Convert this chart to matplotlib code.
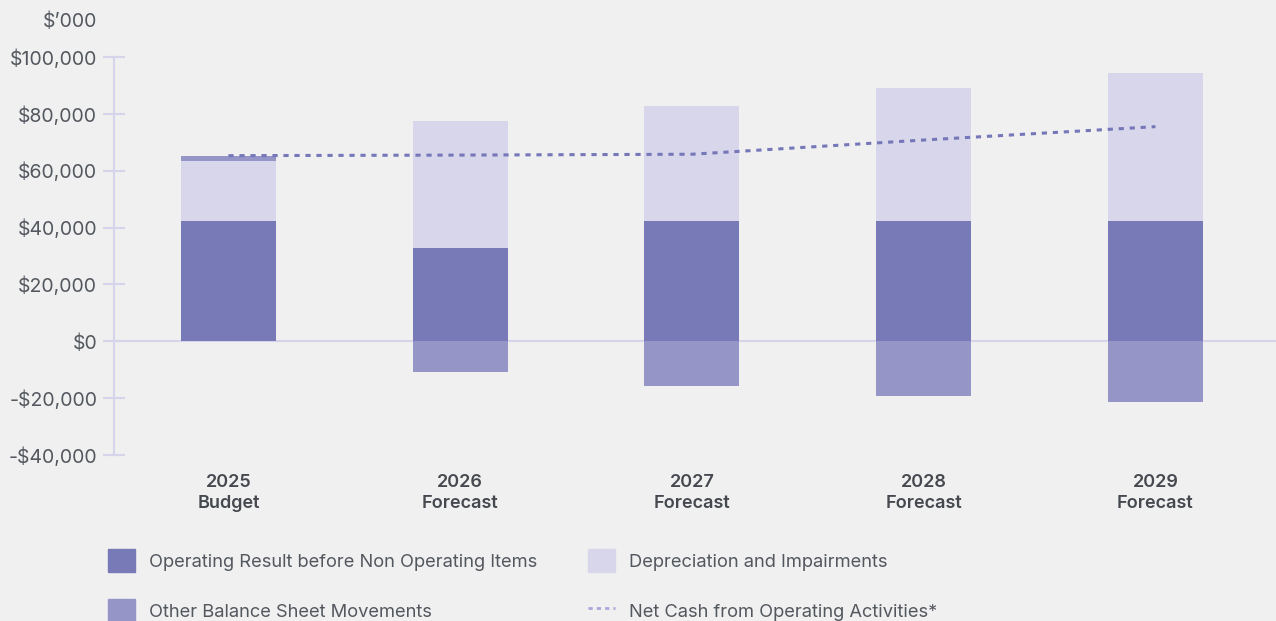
import matplotlib.pyplot as plt
from matplotlib.patches import Patch
from matplotlib.lines import Line2D
from matplotlib.ticker import FuncFormatter

plt.rcParams['font.family'] = ['Inter', 'DejaVu Sans']

years = ["2025\nBudget", "2026\nForecast", "2027\nForecast", "2028\nForecast", "2029\nForecast"]
operating_result = [42300, 32700, 42300, 42300, 42300]
depreciation = [21100, 44800, 40400, 46800, 52100]
other_movements = [1800, -10900, -15800, -19400, -21500]
net_cash = [65300, 65500, 65800, 70800, 75500]

c_op = "#7879b7"
c_dep = "#d7d6ea"
c_other = "#9595c8"
c_line = "#7677b9"
c_axis = "#d5d4ea"
c_text = "#53575e"
bg = "#f0f0f0"

fig = plt.figure(figsize=(12.76, 6.21), dpi=100, facecolor=bg)
ax = fig.add_axes([0.0893, 0.2673, 0.9107, 0.6409], facecolor=bg)

x = list(range(len(years)))
w = 0.41
ax.bar(x, operating_result, w, color=c_op, zorder=2)
ax.bar(x, depreciation, w, bottom=operating_result, color=c_dep, zorder=2)
# positive movements sit on top of the stack, negative ones hang below zero
other_bottom = [o + d if m > 0 else 0 for o, d, m in zip(operating_result, depreciation, other_movements)]
ax.bar(x, other_movements, w, bottom=other_bottom, color=c_other, zorder=2)
ax.plot(x, net_cash, color=c_line, lw=2.2, dashes=(1.7, 1.9), zorder=3)

ax.axhline(0, color=c_axis, lw=1.5, zorder=1)
ax.set_ylim(-40000, 100000)
ax.set_xlim(-0.494, 4.52)
ax.set_yticks(range(-40000, 100001, 20000))
ax.yaxis.set_major_formatter(FuncFormatter(lambda v, p: ("-" if v < 0 else "") + "${:,.0f}".format(abs(v))))
for s in ["top", "right", "bottom"]:
    ax.spines[s].set_visible(False)
ax.spines["left"].set_color(c_axis)
ax.spines["left"].set_linewidth(1.5)
ax.tick_params(axis="y", direction="inout", length=16, width=1.5, color=c_axis,
               labelsize=14, labelcolor=c_text, pad=4)
ax.set_xticks(x)
ax.set_xticklabels(years, fontsize=13, color="#45494f", fontweight="semibold", linespacing=1.25)
ax.tick_params(axis="x", length=0, pad=14)

fig.text(0.076, 0.965, "$\u2019000", ha="right", va="center", fontsize=14, color=c_text)

handles = [
    Patch(color=c_op, label="Operating Result before Non Operating Items"),
    Patch(color=c_other, label="Other Balance Sheet Movements"),
    Patch(color=c_dep, label="Depreciation and Impairments"),
    Line2D([], [], color="#a9a8dc", lw=2, dashes=(1.5, 1.5), label="Net Cash from Operating Activities*"),
]
leg = fig.legend(handles=handles, ncol=2, loc="upper left", bbox_to_anchor=(0.0772, 0.1307),
                 frameon=False, fontsize=13.2, handlelength=1.5, handleheight=1.55,
                 handletextpad=0.75, labelspacing=1.5, columnspacing=2.77, borderpad=0)
for t in leg.get_texts():
    t.set_color(c_text)

fig.savefig("out.png", dpi=100, facecolor=bg)
